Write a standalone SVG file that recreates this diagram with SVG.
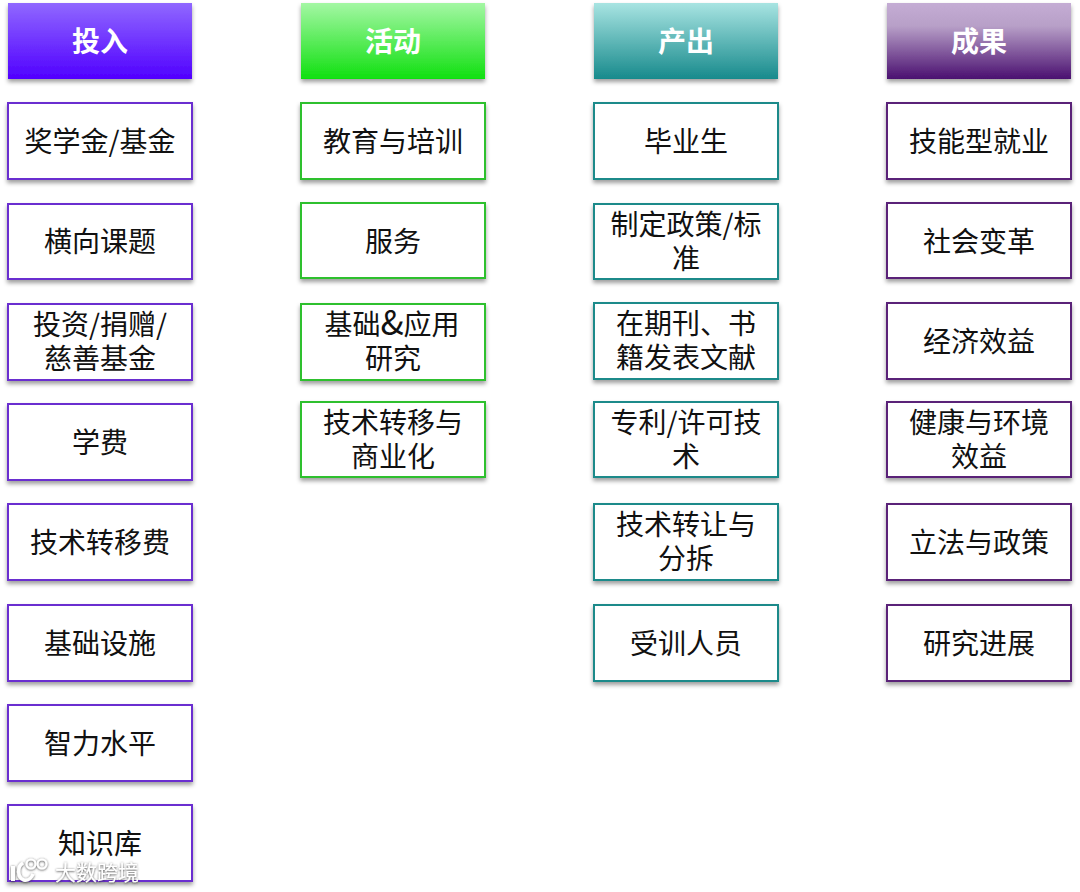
<svg xmlns="http://www.w3.org/2000/svg" width="1080" height="892" viewBox="0 0 1080 892">
<style>
text{font-family:"Noto Sans CJK SC","Liberation Sans",sans-serif;text-anchor:middle;font-size:28px;fill:#111}
.h{font-size:28px;font-weight:700;fill:#fff}
.b{fill:#fff;stroke-width:2;filter:url(#s)}
.p{stroke:#6a2fd0}.g{stroke:#2fc02f}.t{stroke:#1f8a8a}.m{stroke:#5a2478}
.hd{filter:url(#s)}
.wm{font-size:21px;fill:#fff}
.lg{fill:none;stroke:#fff}
</style>
<defs>
<filter id="s" x="-10%" y="-15%" width="120%" height="135%"><feDropShadow dx="0" dy="3" stdDeviation="2.2" flood-color="#000" flood-opacity=".38"/></filter>
<filter id="w" x="-10%" y="-20%" width="120%" height="150%"><feDropShadow dx="0" dy="0.6" stdDeviation="0.9" flood-color="#333" flood-opacity=".95"/></filter>
<linearGradient id="g1" x1="0" y1="0" x2="0" y2="1"><stop offset="0" stop-color="#9068ff"/><stop offset="1" stop-color="#5000ff"/></linearGradient>
<linearGradient id="g2" x1="0" y1="0" x2="0" y2="1"><stop offset="0" stop-color="#a4f7a4"/><stop offset="1" stop-color="#10e010"/></linearGradient>
<linearGradient id="g3" x1="0" y1="0" x2="0" y2="1"><stop offset="0" stop-color="#a8e4e2"/><stop offset="1" stop-color="#178a8c"/></linearGradient>
<linearGradient id="g4" x1="0" y1="0" x2="0" y2="1"><stop offset="0" stop-color="#c4acd4"/><stop offset=".3" stop-color="#b8a0c8"/><stop offset="1" stop-color="#4a1070"/></linearGradient>
</defs>
<g id="headers">
<g id="h1"><rect class="hd" x="8" y="3" width="184" height="76" fill="url(#g1)"/><text class="h" x="100" y="52">投入</text></g>
<g id="h2"><rect class="hd" x="301" y="3" width="184" height="76" fill="url(#g2)"/><text class="h" x="393" y="52">活动</text></g>
<g id="h3"><rect class="hd" x="594" y="3" width="184" height="76" fill="url(#g3)"/><text class="h" x="686" y="52">产出</text></g>
<g id="h4"><rect class="hd" x="887" y="3" width="184" height="76" fill="url(#g4)"/><text class="h" x="979" y="52">成果</text></g>
</g>
<g id="inputs">
<g id="a1"><rect class="b p" x="8" y="103" width="184" height="76"/><text x="100" y="152">奖学金/基金</text></g>
<g id="a2"><rect class="b p" x="8" y="204" width="184" height="75"/><text x="100" y="252">横向课题</text></g>
<g id="a3"><rect class="b p" x="8" y="304" width="184" height="76"/><text x="100" y="335">投资/捐赠/</text><text x="100" y="369">慈善基金</text></g>
<g id="a4"><rect class="b p" x="8" y="404" width="184" height="76"/><text x="100" y="453">学费</text></g>
<g id="a5"><rect class="b p" x="8" y="504" width="184" height="76"/><text x="100" y="553">技术转移费</text></g>
<g id="a6"><rect class="b p" x="8" y="605" width="184" height="76"/><text x="100" y="654">基础设施</text></g>
<g id="a7"><rect class="b p" x="8" y="705" width="184" height="76"/><text x="100" y="754">智力水平</text></g>
<g id="a8"><rect class="b p" x="8" y="805" width="184" height="76"/><text x="100" y="854">知识库</text></g>
</g>
<g id="activities">
<g id="b1"><rect class="b g" x="301" y="103" width="184" height="76"/><text x="393" y="152">教育与培训</text></g>
<g id="b2"><rect class="b g" x="301" y="203" width="184" height="75"/><text x="393" y="252">服务</text></g>
<g id="b3"><rect class="b g" x="301" y="304" width="184" height="76"/><text x="392" y="335">基础<tspan font-size="34">&amp;</tspan>应用</text><text x="393" y="369">研究</text></g>
<g id="b4"><rect class="b g" x="301" y="402" width="184" height="75"/><text x="393" y="433">技术转移与</text><text x="393" y="467">商业化</text></g>
</g>
<g id="outputs">
<g id="c1"><rect class="b t" x="594" y="103" width="184" height="76"/><text x="686" y="152">毕业生</text></g>
<g id="c2"><rect class="b t" x="594" y="204" width="184" height="75"/><text x="686" y="235">制定政策/标</text><text x="686" y="269">准</text></g>
<g id="c3"><rect class="b t" x="594" y="303" width="184" height="76"/><text x="686" y="334">在期刊、书</text><text x="686" y="368">籍发表文献</text></g>
<g id="c4"><rect class="b t" x="594" y="402" width="184" height="75"/><text x="686" y="433">专利/许可技</text><text x="686" y="467">术</text></g>
<g id="c5"><rect class="b t" x="594" y="504" width="184" height="76"/><text x="686" y="535">技术转让与</text><text x="686" y="569">分拆</text></g>
<g id="c6"><rect class="b t" x="594" y="605" width="184" height="76"/><text x="686" y="654">受训人员</text></g>
</g>
<g id="outcomes">
<g id="d1"><rect class="b m" x="887" y="103" width="184" height="76"/><text x="979" y="152">技能型就业</text></g>
<g id="d2"><rect class="b m" x="887" y="203" width="184" height="75"/><text x="979" y="252">社会变革</text></g>
<g id="d3"><rect class="b m" x="887" y="303" width="184" height="76"/><text x="979" y="352">经济效益</text></g>
<g id="d4"><rect class="b m" x="887" y="402" width="184" height="75"/><text x="979" y="433">健康与环境</text><text x="979" y="467">效益</text></g>
<g id="d5"><rect class="b m" x="887" y="504" width="184" height="76"/><text x="979" y="553">立法与政策</text></g>
<g id="d6"><rect class="b m" x="887" y="605" width="184" height="76"/><text x="979" y="654">研究进展</text></g>
</g>
<g id="watermark" filter="url(#w)">
<path class="lg" d="M13 866v15" stroke-width="4"/>
<path class="lg" d="M23 863c-6 3-6 15 1 17c5 1 8-3 9-6" stroke-width="3.5"/>
<circle class="lg" cx="31" cy="864" r="4.5" stroke-width="2.2"/><circle class="lg" cx="42" cy="864" r="4.5" stroke-width="2.2"/>
<text class="wm" x="97" y="880">大数跨境</text>
</g>
</svg>
